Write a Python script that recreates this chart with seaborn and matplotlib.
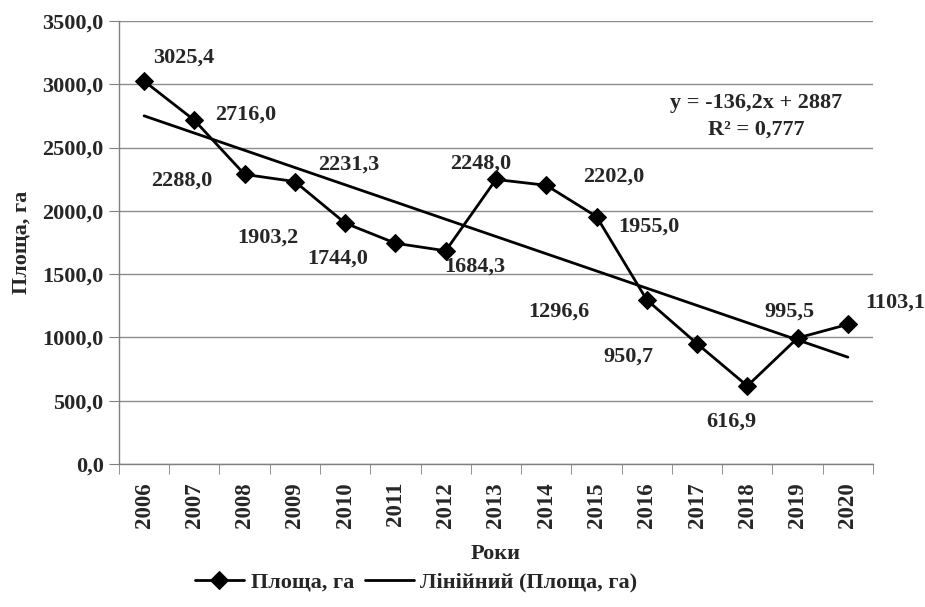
import numpy as np
import pandas as pd
import seaborn as sns
import matplotlib.pyplot as plt
from matplotlib.ticker import FixedLocator, FuncFormatter

# data
years = [2006, 2007, 2008, 2009, 2010, 2011, 2012, 2013, 2014, 2015, 2016, 2017, 2018, 2019, 2020]
area = [3025.4, 2716.0, 2288.0, 2231.3, 1903.2, 1744.0, 1684.3, 2248.0, 2202.0, 1955.0,
        1296.6, 950.7, 616.9, 995.5, 1103.1]
# data label offsets in pixels (as placed in the original chart)
label_dx = [40, 51, -63, 54, -77, -58, 29, -15, 67, 52, -88, -69, -16, -8, 47]
label_dy = [23, 6, -6, 17, -14, -15, -16, 16, 9, -10, -12, -13, -36, 26, 22]

sns.set_style("white")
plt.rcParams['font.family'] = ['Liberation Serif', 'DejaVu Serif']
plt.rcParams['font.weight'] = 'bold'
fs = 16

df = pd.DataFrame({"pos": np.arange(len(years)) + 0.5, "area": area})
n = np.arange(1, len(years) + 1)
slope, intercept = np.polyfit(n, area, 1)
r2 = np.corrcoef(n, area)[0, 1] ** 2
df["trend"] = slope * n + intercept

fig = plt.figure(figsize=(9.25, 6.07), dpi=100)
ax = fig.add_axes([0.1286, 0.2356, 0.9438 - 0.1286, 0.9654 - 0.2356])

sns.lineplot(data=df, x="pos", y="area", ax=ax, color="black", lw=2, marker="D",
             markersize=9, markeredgecolor="black", label="Площа, га")
sns.lineplot(data=df, x="pos", y="trend", ax=ax, color="black", lw=2,
             label="Лінійний (Площа, га)")

for x, y, dx, dy in zip(df["pos"], area, label_dx, label_dy):
    ax.annotate(f"{y:.1f}".replace(".", ","), (x, y), xytext=(dx * 0.72, dy * 0.72),
                textcoords="offset points", ha="center", va="center",
                fontsize=fs, fontweight="bold")

ax.text(0.845, 0.785,
        f"y = {slope:.1f}x + {intercept:.0f}".replace(".", ",") + "\n" +
        f"R² = {r2:.3f}".replace(".", ","),
        transform=ax.transAxes, ha="center", va="center", fontsize=fs,
        fontweight="bold", linespacing=1.45)

ax.set_xlim(0, len(years))
ax.set_ylim(0, 3500)
ax.set_yticks(np.arange(0, 3501, 500))
ax.yaxis.set_major_formatter(FuncFormatter(lambda v, p: f"{v:.1f}".replace(".", ",")))
ax.xaxis.set_major_locator(FixedLocator(df["pos"]))
ax.set_xticklabels([str(y) for y in years], rotation=90)
ax.xaxis.set_minor_locator(FixedLocator(np.arange(0, len(years) + 1)))
ax.tick_params(axis="x", which="major", length=0, pad=13, labelsize=fs + 0.5)
ax.tick_params(axis="x", which="minor", length=7, color="#808080", direction="out", bottom=True)
ax.tick_params(axis="y", length=7, color="#808080", direction="out", left=True, labelsize=fs, pad=4)
for lab in ax.get_xticklabels() + ax.get_yticklabels():
    lab.set_fontweight("bold")

ax.grid(axis="y", color="#8c8c8c", lw=1)
ax.set_axisbelow(True)
for s in ["top", "right"]:
    ax.spines[s].set_visible(False)
for s in ["left", "bottom"]:
    ax.spines[s].set_color("#808080")
    ax.spines[s].set_linewidth(1)

ax.set_xlabel("Роки", fontsize=fs, fontweight="bold", labelpad=12)
ax.set_ylabel("Площа, га", fontsize=fs, fontweight="bold", labelpad=8)

ax.legend_.remove()
handles, labels = ax.get_legend_handles_labels()
fig.legend(handles, labels, loc="center", bbox_to_anchor=(0.45, 0.041), ncol=2,
           frameon=False, handlelength=2.2, handletextpad=0.3,
           columnspacing=0.5, prop={"weight": "bold", "size": fs})

fig.savefig("out.png", dpi=100)
